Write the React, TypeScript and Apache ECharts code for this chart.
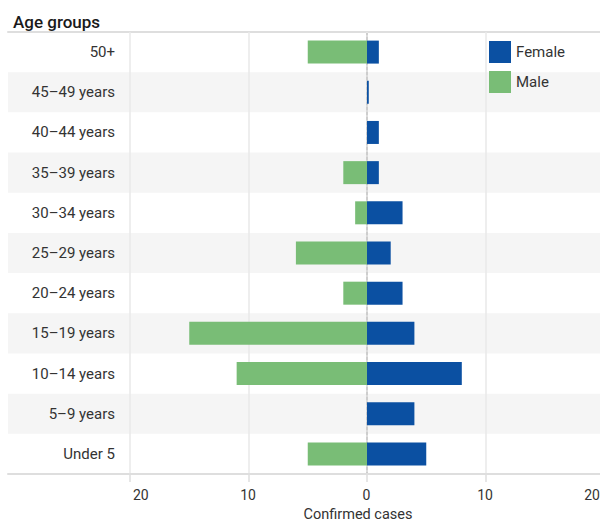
import React, { useEffect, useRef } from "react";
import * as echarts from "echarts";

const categories = [
  "50+",
  "45–49 years",
  "40–44 years",
  "35–39 years",
  "30–34 years",
  "25–29 years",
  "20–24 years",
  "15–19 years",
  "10–14 years",
  "5–9 years",
  "Under 5",
];
const female = [1, 0.15, 1, 1, 3, 2, 3, 4, 8, 4, 5];
const male = [5, 0, 0, 2, 1, 6, 2, 15, 11, 0, 5];
const xMin = -20;
const xMax = 20;
const xInterval = 10;

const FONT = "Roboto, 'Noto Sans', sans-serif";
const BLUE = "#0b50a2";
const GREEN = "#79bd76";
const LINE = "#dedede";
const BAND = ["rgba(255,255,255,0)", "#f5f5f5"];

export default function App() {
  const ref = useRef<HTMLDivElement>(null);
  useEffect(() => {
    if (!ref.current) return;
    const chart = echarts.init(ref.current, undefined, { renderer: "svg" });
    const lineOnly = (gridIndex: number, position: string) => ({
      type: "value",
      gridIndex,
      position,
      min: 0,
      max: 1,
      axisLine: { show: true, lineStyle: { color: LINE, width: 2 } },
      axisTick: { show: false },
      axisLabel: { show: false },
      splitLine: { show: false },
    });
    chart.setOption({
      animation: false,
      textStyle: { fontFamily: FONT },
      title: {
        text: "Age groups",
        left: 8,
        top: 8,
        textStyle: { fontFamily: FONT, fontSize: 17, fontWeight: 500, color: "#1a1a1a" },
      },
      legend: {
        data: ["Female", "Male"],
        orient: "vertical",
        left: 484,
        top: 36,
        itemWidth: 22,
        itemHeight: 22,
        itemGap: 8,
        icon: "rect",
        textStyle: { fontFamily: FONT, fontSize: 15, color: "#333" },
      },
      grid: [
        { left: 130, right: 4, top: 32, bottom: 48, outerBoundsMode: "none", containLabel: false },
        { left: 8, width: 122, top: 32, bottom: 48, outerBoundsMode: "none", containLabel: false },
      ],
      xAxis: [
        {
          type: "value",
          gridIndex: 0,
          min: xMin,
          max: xMax,
          interval: xInterval,
          z: 1,
          name: "Confirmed cases",
          nameLocation: "middle",
          nameGap: 33,
          nameTextStyle: {
            fontFamily: FONT,
            fontSize: 14.5,
            color: "#333",
            padding: [0, 18, 0, 0],
          },
          axisLine: { show: true, lineStyle: { color: LINE, width: 2 } },
          axisTick: { show: true, length: 8, lineStyle: { color: LINE, width: 1.5 } },
          axisLabel: {
            fontFamily: FONT,
            fontSize: 14,
            color: "#333",
            margin: 14,
            padding: [0, 4, 0, 3],
            alignMinLabel: "left",
            alignMaxLabel: "right",
            formatter: (v: number) => String(Math.abs(v)),
          },
          splitLine: { show: true, lineStyle: { color: "#e8e8e8", width: 1.5 } },
        },
        lineOnly(1, "bottom"),
        lineOnly(0, "top"),
        lineOnly(1, "top"),
      ],
      yAxis: [
        {
          type: "category",
          gridIndex: 0,
          data: categories,
          inverse: true,
          z: 0,
          axisLine: {
            show: true,
            onZero: true,
            lineStyle: { color: "#555", width: 1.5, type: [3, 2] },
          },
          axisTick: { show: false },
          axisLabel: { show: false },
          splitArea: { show: true, areaStyle: { color: BAND } },
        },
        {
          type: "category",
          gridIndex: 1,
          data: categories,
          inverse: true,
          position: "right",
          axisLine: { show: false },
          axisTick: { show: false },
          axisLabel: {
            inside: true,
            margin: 15,
            fontFamily: FONT,
            fontSize: 15,
            color: "#333",
          },
          splitArea: { show: true, areaStyle: { color: BAND } },
        },
      ],
      series: [
        {
          name: "Female",
          type: "bar",
          xAxisIndex: 0,
          yAxisIndex: 0,
          data: female,
          barWidth: 23,
          barGap: "-100%",
          itemStyle: { color: BLUE },
        },
        {
          name: "Male",
          type: "bar",
          xAxisIndex: 0,
          yAxisIndex: 0,
          data: male.map((v) => -v),
          barWidth: 23,
          barGap: "-100%",
          itemStyle: { color: GREEN },
        },
      ],
    });
    return () => chart.dispose();
  }, []);
  return (
    <div
      style={{
        position: "absolute",
        left: 0,
        top: 0,
        width: 600,
        height: 522,
        overflow: "hidden",
      }}
    >
      <div ref={ref} style={{ width: 608, height: 522 }} />
    </div>
  );
}
